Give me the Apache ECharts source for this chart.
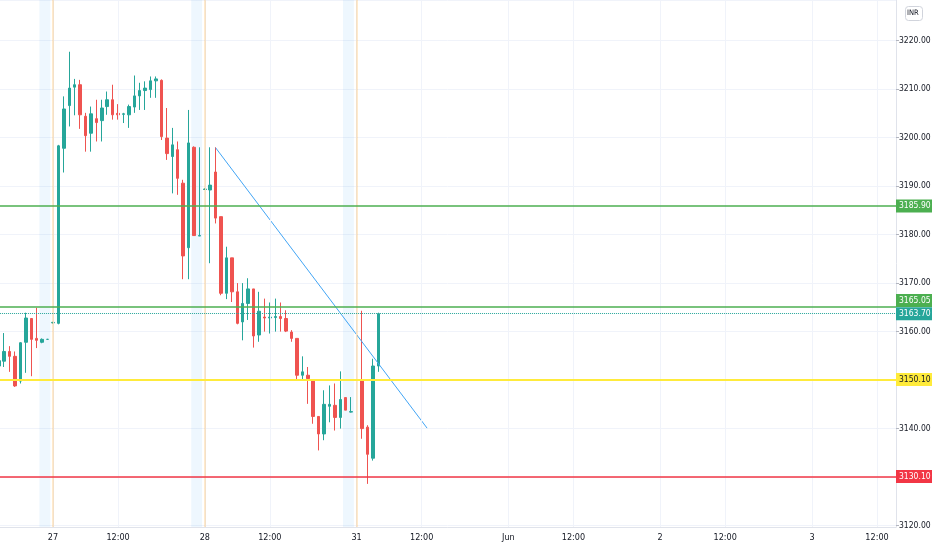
<!DOCTYPE html>
<html>
<head>
<meta charset="utf-8">
<title>Chart</title>
<script src="https://cdn.jsdelivr.net/npm/echarts@6/dist/echarts.min.js"></script>
<style>
  html, body { margin: 0; padding: 0; background: #fff; }
  #chart { width: 932px; height: 550px; }
</style>
</head>
<body>
<div id="chart"></div>
<script>
// 15 minute bars, 28 slots a day (slot 0 is the pre-open bar)
const FIRST_SLOT = -10;   // last bars of 26 May still on screen
const LAST_SLOT = 155;

// [open, close, low, high]
const may26 = [   // slots -10 .. -1
  [3152.9, 3154.0, 3152.5, 3154.3],
  [3153.9, 3155.9, 3152.7, 3159.7],
  [3155.9, 3154.9, 3151.7, 3157.0],
  [3154.9, 3148.8, 3148.6, 3155.9],
  [3149.8, 3157.7, 3149.3, 3157.8],
  [3157.8, 3162.8, 3151.5, 3163.9],
  [3162.7, 3158.4, 3150.8, 3162.8],
  [3158.6, 3158.2, 3156.6, 3164.9],
  [3157.8, 3158.4, 3157.6, 3158.6],
  [3158.4, 3158.4, 3158.3, 3158.5]
];
const may27 = [   // slots 0 .. 27
  [3161.8, 3161.9, 3161.7, 3162.0],
  [3161.7, 3198.3, 3161.5, 3198.5],
  [3197.8, 3205.9, 3192.8, 3208.5],
  [3206.6, 3210.2, 3202.3, 3217.7],
  [3210.4, 3210.9, 3204.6, 3212.1],
  [3210.9, 3204.7, 3201.8, 3211.9],
  [3204.4, 3200.4, 3197.1, 3205.1],
  [3200.9, 3204.9, 3197.1, 3206.4],
  [3203.9, 3203.1, 3199.2, 3207.8],
  [3203.5, 3206.1, 3199.2, 3207.8],
  [3206.4, 3207.8, 3204.7, 3209.5],
  [3207.8, 3204.7, 3203.7, 3210.9],
  [3205.0, 3204.7, 3203.7, 3206.9],
  [3204.8, 3204.9, 3203.0, 3205.1],
  [3204.7, 3206.4, 3202.0, 3206.8],
  [3206.3, 3208.6, 3205.1, 3212.8],
  [3208.6, 3209.7, 3205.7, 3211.3],
  [3209.7, 3210.2, 3205.7, 3211.6],
  [3209.9, 3211.7, 3208.2, 3212.6],
  [3211.7, 3212.1, 3208.2, 3212.6],
  [3211.8, 3200.2, 3199.5, 3212.0],
  [3199.9, 3196.7, 3195.4, 3206.1],
  [3196.1, 3198.5, 3188.5, 3202.0],
  [3197.5, 3191.6, 3188.2, 3199.2],
  [3190.6, 3175.6, 3170.8, 3191.3],
  [3177.3, 3198.9, 3170.8, 3205.7],
  [3198.0, 3179.8, 3179.8, 3198.2],
  [3179.7, 3179.8, 3179.7, 3198.0]
];
const may28 = [   // slots 28 .. 55
  [3189.3, 3189.4, 3189.2, 3189.5],
  [3189.2, 3190.2, 3174.1, 3198.0],
  [3192.9, 3183.4, 3182.3, 3198.0],
  [3183.7, 3167.9, 3167.5, 3183.7],
  [3167.9, 3175.2, 3166.7, 3177.5],
  [3175.2, 3168.2, 3166.1, 3175.2],
  [3168.2, 3161.7, 3161.5, 3170.0],
  [3162.0, 3165.8, 3158.2, 3170.0],
  [3165.8, 3168.8, 3162.4, 3171.0],
  [3168.8, 3159.1, 3156.7, 3168.8],
  [3159.3, 3164.2, 3157.9, 3168.2],
  [3163.0, 3162.8, 3160.0, 3166.8],
  [3162.8, 3163.0, 3159.6, 3166.0],
  [3162.9, 3163.1, 3160.0, 3166.8],
  [3163.1, 3162.7, 3160.0, 3166.0],
  [3162.7, 3160.1, 3159.9, 3164.4],
  [3159.9, 3158.6, 3157.9, 3160.3],
  [3158.6, 3151.0, 3150.0, 3158.6],
  [3151.0, 3151.7, 3150.0, 3154.9],
  [3151.0, 3150.3, 3145.1, 3152.7],
  [3149.8, 3142.5, 3141.0, 3149.8],
  [3142.5, 3138.9, 3135.5, 3142.5],
  [3138.9, 3145.0, 3137.6, 3147.9],
  [3144.6, 3145.0, 3141.3, 3148.9],
  [3144.8, 3142.3, 3139.6, 3149.3],
  [3142.3, 3146.0, 3140.0, 3151.8],
  [3146.4, 3143.8, 3143.8, 3146.4],
  [3143.4, 3143.5, 3143.3, 3146.5]
];
const may31 = [   // slots 56 .. 60
  [3150.0, 3150.1, 3149.9, 3150.2],
  [3150.0, 3140.0, 3137.9, 3164.3],
  [3140.3, 3134.7, 3128.6, 3140.7],
  [3133.9, 3152.9, 3133.4, 3154.4],
  [3152.9, 3163.7, 3151.7, 3163.9]
];

const tickSlots  = [0, 12, 28, 40, 56, 68, 84, 96, 112, 124, 140, 152];
const tickLabels = ['27', '12:00', '28', '12:00', '31', '12:00', 'Jun', '12:00', '2', '12:00', '3', '12:00'];

const extendedSlots = [-2, -1, 26, 27, 54, 55];
const sessionStartSlots = [0, 28, 56];

const levels = [3185.90, 3165.05, 3150.10, 3130.10];
const lastPrice = 3163.70;
const trendFrom = [30, 3197.9];
const trendTo = [69, 3140.1];

const priceTicks = { min: 3119.71, max: 3228.37 };

// ---------------------------------------------------------------
const FONT = "'DejaVu Sans Condensed', 'DejaVu Sans', sans-serif";
const UP = '#26a69a', DOWN = '#ef5350';
const levelColors = ['#4caf50', '#4caf50', '#ffeb3b', '#f23645'];
const levelText = ['#fff', '#fff', '#131722', '#fff'];

const idx = s => s - FIRST_SLOT;
const categories = [];
for (let s = FIRST_SLOT; s <= LAST_SLOT; s++) categories.push('s' + s);

const tickMap = {};
tickSlots.forEach((s, i) => { tickMap[idx(s)] = tickLabels[i]; });

const candles = [].concat(may26, may27, may28, may31);

const bandData = extendedSlots.map(s => [idx(s), 1]);

function badge(bg, fg, valign) {
  return {
    show: true,
    position: 'end',
    distance: 0,
    formatter: p => Number(p.value).toFixed(2),
    backgroundColor: bg,
    color: fg,
    fontFamily: FONT,
    fontSize: 8.5,
    lineHeight: 12,
    padding: [1, 2, 0, 3],
    verticalAlign: valign || 'middle'
  };
}

const levelLines = levels.map((v, i) => ({
  yAxis: v,
  lineStyle: { color: levelColors[i], width: i === 2 ? 2 : 1.5, type: 'solid' },
  label: badge(levelColors[i], levelText[i], i === 1 ? 'bottom' : 'middle')
}));
levelLines.push({
  yAxis: lastPrice,
  lineStyle: { color: UP, width: 1, type: 'dotted' },
  label: badge(UP, '#fff')
});

const gridLines = tickSlots.map(s => ({
  xAxis: categories[idx(s)],
  lineStyle: { color: '#f0f3fa', width: 1, type: 'solid' }
}));
const sessionLines = sessionStartSlots.map(s => ({
  xAxis: categories[idx(s)],
  lineStyle: { color: 'rgba(255,152,0,0.2)', width: 2, type: 'solid' }
}));

const chart = echarts.init(document.getElementById('chart'));
chart.setOption({
  animation: false,
  backgroundColor: '#fff',
  grid: { left: -3.92, right: 36, top: 0, bottom: 23, containLabel: false, outerBoundsMode: 'none' },
  xAxis: {
    type: 'category',
    data: categories,
    boundaryGap: true,
    axisLine: { show: true, lineStyle: { color: '#e0e3eb' } },
    axisTick: { show: false },
    splitLine: { show: false },
    axisLabel: {
      interval: i => tickMap[i] !== undefined,
      formatter: (v, i) => tickMap[i] || '',
      color: '#131722',
      fontFamily: FONT,
      fontSize: 9,
      margin: 6
    }
  },
  yAxis: [{
    type: 'value',
    position: 'right',
    min: priceTicks.min,
    max: priceTicks.max,
    splitNumber: 11,
    axisLine: { show: true, lineStyle: { color: '#e0e3eb' } },
    axisTick: { show: true, length: 3, lineStyle: { color: '#b2b5be' } },
    axisLabel: {
      color: '#131722',
      fontFamily: FONT,
      fontSize: 8.5,
      margin: 3,
      showMinLabel: false,
      showMaxLabel: false,
      formatter: v => v.toFixed(2)
    },
    splitLine: { show: true, lineStyle: { color: '#f0f3fa' } }
  }, {
    type: 'value', min: 0, max: 1, show: false
  }],
  graphic: [
    { type: 'rect', left: 905, top: 6, shape: { width: 17, height: 14, r: 3 },
      style: { fill: '#fff', stroke: '#d1d4dc', lineWidth: 1 } },
    { type: 'text', left: 907, top: 9,
      style: { text: 'INR', fontSize: 7.5, fontFamily: FONT, fill: '#131722' } }
  ],
  series: [
    {
      type: 'bar',
      yAxisIndex: 1,
      data: bandData,
      barCategoryGap: '0%',
      itemStyle: { color: 'rgba(33,150,243,0.08)' },
      silent: true,
      z: 1,
      markLine: {
        silent: true,
        symbol: ['none', 'none'],
        label: { show: false },
        data: gridLines.concat(sessionLines)
      }
    },
    {
      type: 'candlestick',
      data: candles,
      barWidth: 3,
      itemStyle: {
        color: UP, color0: DOWN,
        borderColor: UP, borderColor0: DOWN,
        borderWidth: 1
      },
      z: 3,
      markLine: {
        silent: true,
        symbol: ['none', 'none'],
        data: levelLines
      }
    },
    {
      type: 'line',
      data: [[idx(trendFrom[0]), trendFrom[1]], [idx(trendTo[0]), trendTo[1]]],
      symbol: 'none',
      silent: true,
      lineStyle: { color: '#42a5f5', width: 1 },
      z: 4
    }
  ]
});
</script>
</body>
</html>
